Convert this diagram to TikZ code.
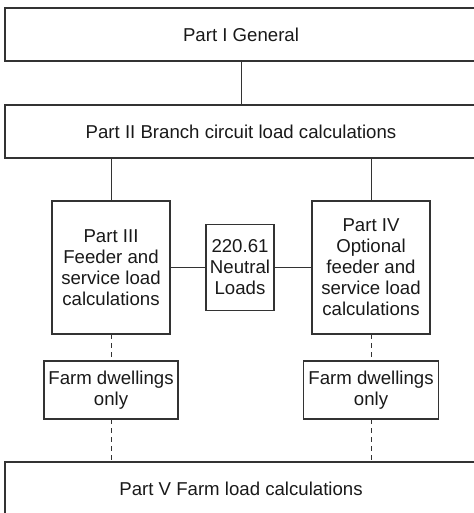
\documentclass[tikz,border=0pt]{standalone}
\usepackage{fontspec}
\setmainfont{Liberation Sans}

\tikzset{
  part/.style={draw=black!80, line width=0.6pt, inner sep=0pt, align=center,
    text=black!90, font=\fontsize{10.6}{11.95}\selectfont},
  wide/.style={part, minimum width=9.44cm, minimum height=1.06cm},
  link/.style={draw=black!80, line width=0.55pt},
  dashlink/.style={link, dash pattern=on 2.8pt off 2.3pt}
}

\begin{document}
\begin{tikzpicture}
    \useasboundingbox (0,0) rectangle (9.46,-10.26);

    % Rita de breda rutorna
    \node[wide] (general) at (4.82,-0.69) {Part I General};
    \node[wide] (branch) at (4.82,-2.63) {Part II Branch circuit load calculations};
    \node[wide] (farm) at (4.82,-9.77) {Part V Farm load calculations};

    % Rita mittraden
    \node[part, minimum width=2.36cm, minimum height=2.66cm] (feeder) at (2.22,-5.35)
        {Part III\\Feeder and\\service load\\calculations};
    \node[part, minimum width=1.36cm, minimum height=1.72cm] (neutral) at (4.80,-5.35)
        {220.61\\Neutral\\Loads};
    \node[part, minimum width=2.36cm, minimum height=2.66cm] (optional) at (7.42,-5.35)
        {Part IV\\Optional\\feeder and\\service load\\calculations};

    % Rita gårdsrutorna
    \node[part, minimum width=2.68cm, minimum height=1.16cm] (dwellA) at (2.22,-7.80)
        {Farm dwellings\\only};
    \node[part, minimum width=2.70cm, minimum height=1.16cm] (dwellB) at (7.42,-7.80)
        {Farm dwellings\\only};

    % Rita linjerna
    \draw[link] (general) -- (branch);
    \draw[link] (branch.south -| feeder.north) -- (feeder.north);
    \draw[link] (branch.south -| optional.north) -- (optional.north);
    \draw[link] (feeder) -- (neutral);
    \draw[link] (neutral) -- (optional);

    % Rita de streckade linjerna
    \draw[dashlink] (feeder) -- (dwellA);
    \draw[dashlink] (dwellA.south) -- (dwellA.south |- farm.north);
    \draw[dashlink] (optional) -- (dwellB);
    \draw[dashlink] (dwellB.south) -- (dwellB.south |- farm.north);
\end{tikzpicture}
\end{document}
